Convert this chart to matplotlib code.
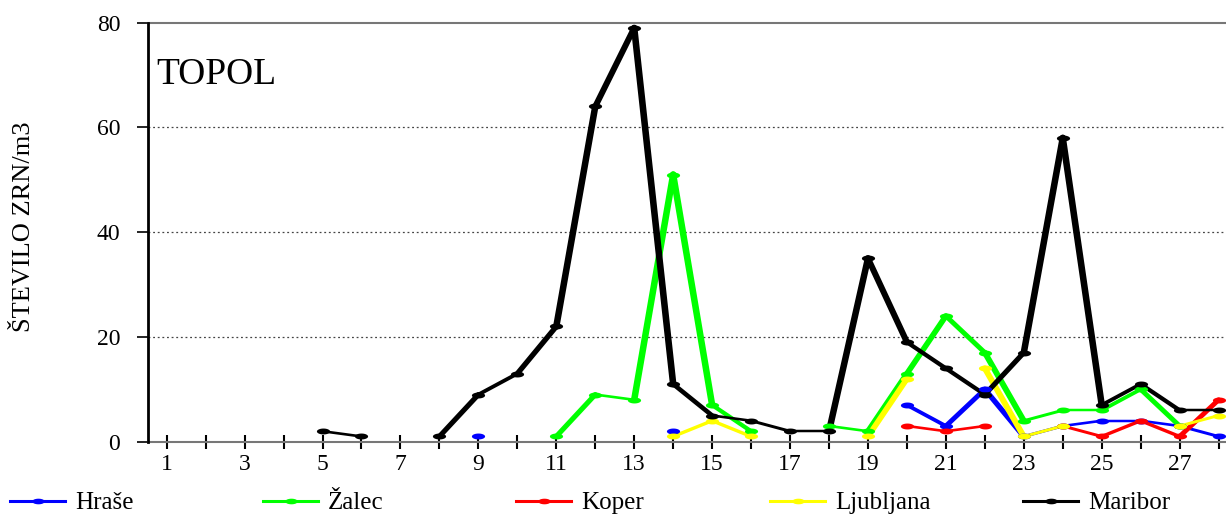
import numpy as np
import matplotlib
matplotlib.use("Agg")
import matplotlib.pyplot as plt
from matplotlib.path import Path
from matplotlib.lines import Line2D
from matplotlib.collections import LineCollection

plt.rcParams['font.family'] = ['Liberation Serif', 'DejaVu Serif']

N = None
days = list(range(1, 29))
hrase = [N, N, N, N, N, N, N, N, 1, N, N, N, N, 2, N, N, N, N, N, 7, 3, 10, 1, 3, 4, 4, 3, 1]
zalec = [N, N, N, N, N, N, N, N, N, N, 1, 9, 8, 51, 7, 2, N, 3, 2, 13, 24, 17, 4, 6, 6, 10, 3, N]
koper = [N, N, N, N, N, N, N, N, N, N, N, N, N, N, N, N, N, N, N, 3, 2, 3, N, 3, 1, 4, 1, 8]
ljubljana = [N, N, N, N, N, N, N, N, N, N, N, N, N, 1, 4, 1, N, N, 1, 12, N, 14, 1, 3, N, N, 3, 5]
maribor = [N, N, N, N, 2, 1, N, 1, 9, 13, 22, 64, 79, 11, 5, 4, 2, 2, 35, 19, 14, 9, 17, 58, 7, 11, 6, 6]

series_names = ['Hraše', 'Žalec', 'Koper', 'Ljubljana', 'Maribor']
series_values = [hrase, zalec, koper, ljubljana, maribor]
series_colors = ['#0000ff', '#00ff00', '#ff0000', '#ffff00', '#000000']

y_ticks = [0, 20, 40, 60, 80]
x_label_days = [d for d in days if d % 2 == 1]
title_text = 'TOPOL'
y_label_text = 'ŠTEVILO ZRN/m3'

W, H = 1226, 515
fig = plt.figure(figsize=(W / 100, H / 100), dpi=100)
ax = fig.add_axes([148 / W, 1 - 441.7 / H, 1078 / W, 419 / H])
ax.set_xlim(0.52, 28.19)
ax.set_ylim(0, 80)

# ellipse marker (wide, flat) like the original rendering
t = np.linspace(0, 2 * np.pi, 40)
ell = Path(np.column_stack([np.cos(t), 0.45 * np.sin(t)]), closed=True)

# elliptical "pen": horizontal half-width a, vertical half-width b (pixels)
PEN_A, PEN_B = 3.3, 1.25

for name, vals, col in zip(series_names, series_values, series_colors):
    x = np.array([d for d, v in zip(days, vals) if v is not None], float)
    y = np.array([v for v in vals if v is not None], float)
    segs, widths = [], []
    for i in range(len(days) - 1):
        if vals[i] is not None and vals[i + 1] is not None:
            p = np.array([[days[i], vals[i]], [days[i + 1], vals[i + 1]]], float)
            pix = ax.transData.transform(p)
            dx, dy = pix[1] - pix[0]
            th = np.arctan2(dy, dx)
            w = 2 * np.sqrt((PEN_A * np.sin(th)) ** 2 + (PEN_B * np.cos(th)) ** 2)
            segs.append(p)
            widths.append(w * 0.72)
    if segs:
        lc = LineCollection(segs, colors=col, linewidths=widths, capstyle='round',
                            joinstyle='round', zorder=3, clip_on=False)
        ax.add_collection(lc)
    ax.plot(x, y, linestyle='none', marker=ell, markersize=9.5, color=col,
            markeredgewidth=0, zorder=3.5, clip_on=False)

# grid
for v in y_ticks[1:-1]:
    ax.axhline(v, color='#444444', lw=0.9, ls=(0, (1.5, 2.2)), zorder=1)

# spines
ax.spines['right'].set_visible(False)
ax.spines['left'].set_linewidth(2)
ax.spines['left'].set_color('black')
ax.spines['top'].set_color('#777777')
ax.spines['top'].set_linewidth(1.5)
ax.spines['bottom'].set_color('#777777')
ax.spines['bottom'].set_linewidth(1.5)
ax.spines['left'].set_zorder(5)

# y axis
ax.set_yticks(y_ticks)
ax.set_yticklabels([str(v) for v in y_ticks], fontsize=17)
ax.tick_params(axis='y', direction='out', length=8, width=1.2, color='black', pad=12)

# x axis
ax.set_xticks(days)
ax.set_xticklabels([str(d) if d in x_label_days else '' for d in days], fontsize=17)
ax.tick_params(axis='x', direction='inout', length=10, width=1.5, color='black', pad=4)

ax.text(0.008, (441.7 - 75) / 419, title_text, transform=ax.transAxes,
        fontsize=27, va='center', ha='left')

fig.text(24 / W, 1 - 227 / H, y_label_text, rotation=90, fontsize=19,
         ha='center', va='center')

# legend, one entry per evenly spaced slot
leg_x = [10, 263, 516, 770, 1023]
for name, col, lx in zip(series_names, series_colors, leg_x):
    h = Line2D([], [], color=col, lw=2.2, marker=ell, markersize=9, markeredgewidth=0)
    fig.legend([h], [name], loc='center left', bbox_to_anchor=(lx / W, 1 - 503 / H),
               frameon=False, fontsize=18, handlelength=2.2, handletextpad=0.4,
               borderpad=0, borderaxespad=0)

fig.savefig('out.png', dpi=100)
